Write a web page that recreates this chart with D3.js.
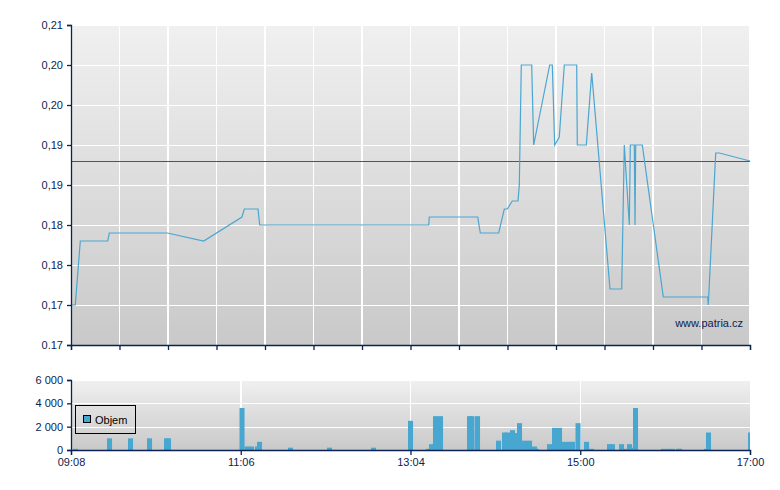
<!DOCTYPE html>
<html>
<head>
<meta charset="utf-8">
<script src="https://cdn.jsdelivr.net/npm/d3@7"></script>
<style>
  html, body { margin: 0; padding: 0; background: #ffffff; }
  svg { display: block; font-family: "Liberation Sans", Arial, sans-serif; }
</style>
</head>
<body>
<svg id="chart" width="780" height="490"></svg>
<script>
// ---------- DATA ----------
const sessionStart = "09:08:00";
const sessionEnd = "17:00:00";
const previousClose = 0.193;

const priceTimes = [
  "09:08:00","09:10:59","09:14:28","09:33:31","09:34:37","10:14:56","10:40:15",
  "11:06:52","11:08:28","11:17:59","11:19:10","13:16:39","13:17:04","13:50:43",
  "13:52:31","14:05:19","14:09:12","14:11:17","14:14:46","14:18:44","14:19:38",
  "14:21:01","14:28:15","14:29:38","14:40:46","14:42:34","14:44:14","14:47:26",
  "14:50:55","14:59:32","14:59:57","15:06:13","15:09:58","15:22:41","15:30:49",
  "15:32:37","15:36:06","15:36:48","15:39:34","15:40:04","15:40:33","15:45:08",
  "15:59:44","16:30:35","16:31:01","16:36:10","16:38:40","17:00:00"
];
const priceValues = [
  0.175,0.175,0.183,0.183,0.184,0.184,0.183,
  0.186,0.187,0.187,0.185,0.185,0.186,0.186,
  0.184,0.184,0.187,0.187,0.188,0.188,0.190,
  0.205,0.205,0.195,0.205,0.205,0.195,0.196,
  0.205,0.205,0.195,0.195,0.204,0.177,0.177,
  0.195,0.185,0.195,0.195,0.185,0.195,0.195,
  0.176,0.176,0.175,0.194,0.194,0.193
];

const volumeTimes = [
  "09:09:23","09:33:02","09:47:37","10:00:50","10:12:39","10:14:02",
  "11:05:08","11:08:37","11:11:44","11:15:55","11:17:18","11:38:51",
  "12:05:58","12:36:32","13:02:16","13:14:46","13:16:52","13:19:38",
  "13:23:07","13:43:17","13:45:01","13:48:50","14:03:26","14:07:37",
  "14:09:41","14:13:10","14:16:38","14:18:02","14:21:31","14:24:59",
  "14:28:28","14:29:51","14:38:53","14:42:22","14:45:50","14:49:19",
  "14:52:47","14:54:52","14:58:42","15:04:37","15:08:05","15:20:36",
  "15:22:41","15:28:56","15:32:25","15:34:30","15:37:59","15:38:40",
  "15:58:08","16:01:37","16:04:23","16:08:34","16:09:16","16:28:02",
  "16:29:25","16:58:37"
];
const volumeValues = [
  100,1000,1000,1000,1000,1000,
  3600,300,300,300,700,200,
  200,200,2500,100,500,2900,
  2900,2900,2900,2900,800,1500,
  1500,1700,1450,2300,800,800,
  300,100,500,1900,1900,700,
  700,700,2300,700,100,500,
  500,500,100,500,200,3600,
  100,100,100,100,100,100,
  1500,1500
];
const volumeBinMinutes = 3.5;

const priceTickValues = [0.17,0.175,0.18,0.185,0.19,0.195,0.20,0.205,0.21];
const priceTickLabels = ["0.17","0,17","0,18","0,18","0,19","0,19","0,20","0,20","0,21"];
const volumeTickValues = [0,2000,4000,6000];
const volumeTickLabels = ["0","2 000","4 000","6 000"];
const timeTickLabels = ["09:08","11:06","13:04","15:00","17:00"];
const legendLabel = "Objem";
const watermark = "www.patria.cz";

// ---------- SETUP ----------
const parse = d3.timeParse("%H:%M:%S");
const t0 = parse(sessionStart), t1 = parse(sessionEnd);
const price = priceTimes.map((t, i) => ({ t: parse(t), v: priceValues[i] }));
const volume = volumeTimes.map((t, i) => ({ t: parse(t), v: volumeValues[i] }));

const L = 71, R = 750;
const mainTop = 25, mainBottom = 345;
const volTop = 380, volBottom = 450;
const navy = "#0b2352";
const lineBlue = "#4aa6d0";

const x = d3.scaleTime().domain([t0, t1]).range([L, R]);
const y = d3.scaleLinear().domain([0.17, 0.21]).range([mainBottom, mainTop]);
const yv = d3.scaleLinear().domain([0, 6000]).range([volBottom, volTop]);

const span = t1 - t0;
const mainTicks = d3.range(15).map(i => new Date(+t0 + span * i / 14));
const volTicks = d3.range(5).map(i => new Date(+t0 + span * i / 4));

const svg = d3.select("#chart");
const defs = svg.append("defs");
const grad = defs.append("linearGradient").attr("id", "bg").attr("x1", 0).attr("y1", 0).attr("x2", 0).attr("y2", 1);
grad.append("stop").attr("offset", "0%").attr("stop-color", "#f0f0f0");
grad.append("stop").attr("offset", "100%").attr("stop-color", "#c9c9c9");
defs.append("clipPath").attr("id", "clipMain").append("rect")
  .attr("x", L).attr("y", mainTop).attr("width", R - L).attr("height", mainBottom - mainTop);
defs.append("clipPath").attr("id", "clipVol").append("rect")
  .attr("x", L).attr("y", volTop).attr("width", R - L).attr("height", volBottom - volTop);

// ---------- MAIN PANEL ----------
svg.append("rect").attr("x", L).attr("y", mainTop).attr("width", R - L).attr("height", mainBottom - mainTop)
  .attr("fill", "url(#bg)");

const gm = svg.append("g").attr("shape-rendering", "crispEdges");
gm.selectAll(".hg").data(priceTickValues).join("line")
  .attr("x1", L).attr("x2", R).attr("y1", d => Math.round(y(d)) + 0.5).attr("y2", d => Math.round(y(d)) + 0.5)
  .attr("stroke", "#ffffff").attr("stroke-width", 1.5);
gm.selectAll(".vg").data(mainTicks.slice(1)).join("line")
  .attr("x1", d => x(d)).attr("x2", d => x(d)).attr("y1", mainTop).attr("y2", mainBottom)
  .attr("stroke", "#ffffff").attr("stroke-width", 1.5);

// previous close reference
svg.append("line").attr("shape-rendering", "crispEdges")
  .attr("x1", L).attr("x2", R).attr("y1", Math.round(y(previousClose)) + 0.5).attr("y2", Math.round(y(previousClose)) + 0.5)
  .attr("stroke", "#a8302e").attr("stroke-width", 1);

// price line
svg.append("path").datum(price).attr("clip-path", "url(#clipMain)")
  .attr("fill", "none").attr("stroke", lineBlue).attr("stroke-width", 1.2)
  .attr("d", d3.line().x(d => x(d.t)).y(d => y(d.v)));

// watermark
svg.append("text").attr("x", 743).attr("y", 327).attr("text-anchor", "end")
  .attr("font-size", 11).attr("fill", navy).text(watermark);

// axes main
const yAxis = d3.axisLeft(y).tickValues(priceTickValues).tickSize(4).tickPadding(4)
  .tickFormat((d, i) => priceTickLabels[i]);
const gy = svg.append("g").attr("transform", `translate(${L},0)`).call(yAxis);
const xAxisMain = d3.axisBottom(x).tickValues(mainTicks).tickSize(5).tickFormat("");
const gx = svg.append("g").attr("transform", `translate(0,${mainBottom})`).call(xAxisMain);

// ---------- VOLUME PANEL ----------
svg.append("rect").attr("x", L).attr("y", volTop).attr("width", R - L).attr("height", volBottom - volTop)
  .attr("fill", "url(#bg)");
const gv = svg.append("g").attr("shape-rendering", "crispEdges");
gv.selectAll(".hg").data(volumeTickValues).join("line")
  .attr("x1", L).attr("x2", R).attr("y1", d => Math.round(yv(d)) + 0.5).attr("y2", d => Math.round(yv(d)) + 0.5)
  .attr("stroke", "#ffffff").attr("stroke-width", 1.5);
gv.selectAll(".vg").data(volTicks.slice(1, 4)).join("line")
  .attr("x1", d => x(d)).attr("x2", d => x(d)).attr("y1", volTop).attr("y2", volBottom)
  .attr("stroke", "#ffffff").attr("stroke-width", 1.5);

svg.append("g").attr("clip-path", "url(#clipVol)")
  .selectAll("rect").data(volume).join("rect")
  .attr("x", d => x(d.t))
  .attr("width", d => x(d3.timeSecond.offset(d.t, volumeBinMinutes * 60)) - x(d.t))
  .attr("y", d => yv(d.v))
  .attr("height", d => yv(0) - yv(d.v))
  .attr("fill", "#48a7d0");

// legend
const lg = svg.append("g");
lg.append("rect").attr("x", 75.5).attr("y", 405.5).attr("width", 60).attr("height", 28)
  .attr("fill", "none").attr("stroke", "#000000").attr("stroke-width", 1);
lg.append("rect").attr("x", 83.5).attr("y", 415.5).attr("width", 7).attr("height", 7)
  .attr("fill", "#48a7d0").attr("stroke", "#000000").attr("stroke-width", 1);
lg.append("text").attr("x", 95).attr("y", 424).attr("font-size", 11).attr("fill", "#000000").text(legendLabel);

// axes volume
const yvAxis = d3.axisLeft(yv).tickValues(volumeTickValues).tickSize(4).tickPadding(4)
  .tickFormat((d, i) => volumeTickLabels[i]);
const gyv = svg.append("g").attr("transform", `translate(${L},0)`).call(yvAxis);
const xvAxis = d3.axisBottom(x).tickValues(volTicks).tickSize(5).tickPadding(3)
  .tickFormat((d, i) => timeTickLabels[i]);
const gxv = svg.append("g").attr("transform", `translate(0,${volBottom})`).call(xvAxis);

// style axes
[gy, gx, gyv, gxv].forEach(g => {
  g.selectAll(".domain").attr("stroke", navy).attr("stroke-width", 1.3);
  g.selectAll(".tick line").attr("stroke", navy).attr("stroke-width", 1.3);
  g.selectAll(".tick text").attr("fill", navy).attr("font-size", 11)
    .attr("font-family", '"Liberation Sans", Arial, sans-serif');
});
</script>
</body>
</html>
